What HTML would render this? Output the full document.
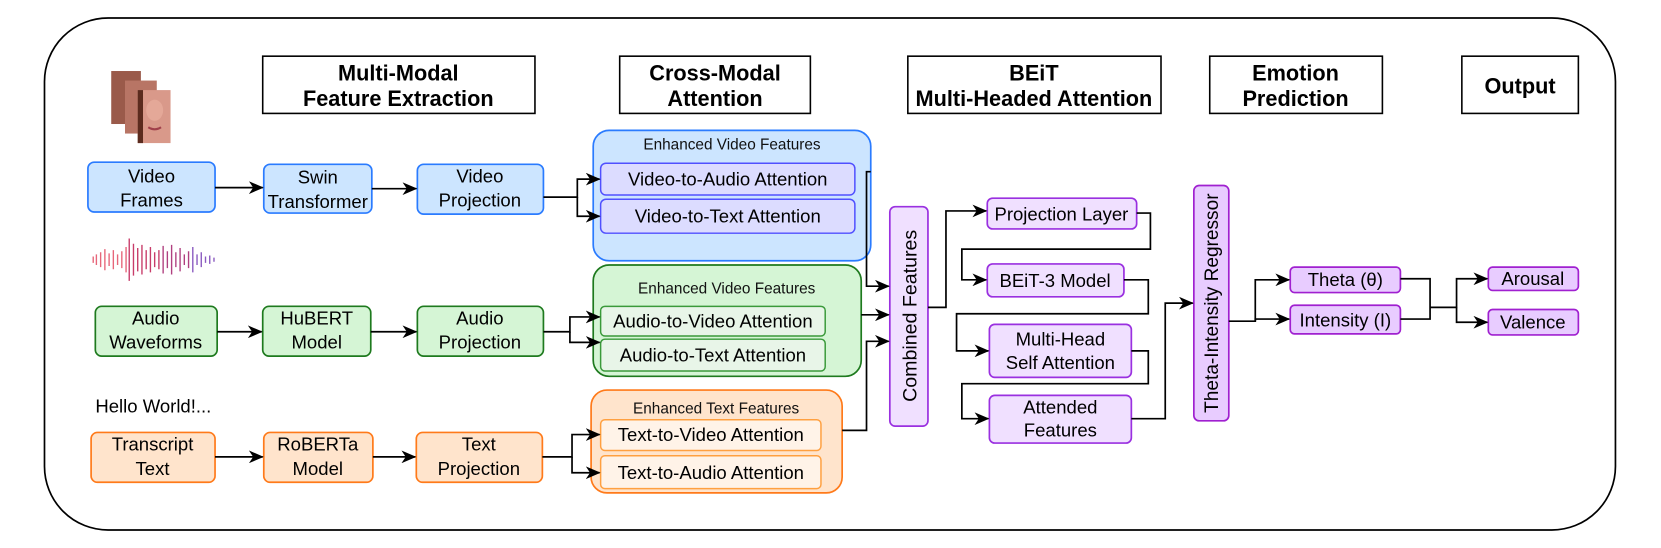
<!DOCTYPE html>
<html><head><meta charset="utf-8"><style>
html,body{margin:0;padding:0;background:#fff;}
svg{display:block;}
text{font-family:"Liberation Sans",Arial,sans-serif;}
</style></head><body>
<svg width="1661" height="548" viewBox="0 0 1568 517" preserveAspectRatio="none" xmlns="http://www.w3.org/2000/svg">
<defs>
<marker id="a" markerWidth="14" markerHeight="12" refX="13" refY="6" orient="auto" markerUnits="userSpaceOnUse">
<path d="M0,0 L14,6 L0,12 L4,6 z" fill="#000"/></marker>
</defs>
<rect x="42" y="17" width="1483" height="483" rx="60" fill="#fff" stroke="#000" stroke-width="1.6"/>

<g fill="#fff" stroke="#000" stroke-width="1.5">
<rect x="248" y="53" width="257" height="54"/>
<rect x="585" y="53" width="180" height="54"/>
<rect x="857" y="53" width="239" height="54"/>
<rect x="1142" y="53" width="163" height="54"/>
<rect x="1380" y="53" width="110" height="54"/>
</g>
<g font-weight="bold" font-size="20.5" text-anchor="middle" fill="#000">
<text x="376" y="76">Multi-Modal</text><text x="376" y="100">Feature Extraction</text>
<text x="675" y="76">Cross-Modal</text><text x="675" y="100">Attention</text>
<text x="976" y="76">BEiT</text><text x="976" y="100">Multi-Headed Attention</text>
<text x="1223" y="76">Emotion</text><text x="1223" y="100">Prediction</text>
<text x="1435" y="88">Output</text>
</g>

<!-- face frames -->
<rect x="105" y="67" width="28" height="50" fill="#9a5a4a"/>
<rect x="118" y="76" width="30" height="50" fill="#b87565"/>
<rect x="130" y="85" width="31" height="50" fill="#d9998a"/>
<rect x="130" y="85" width="5" height="50" fill="#5b2b1e"/>
<ellipse cx="146" cy="104" rx="8" ry="10" fill="#e4a898"/>
<path d="M140,120 q6,4 12,0" stroke="#a0404a" stroke-width="2" fill="none"/>

<g stroke-width="1.3">
<path d="M88,242v6M91,240v10M95,238v14M99,235v20M103,239v12M107,236v18M111,240v10M115,237v16M119,233v24" stroke="#e7667a"/>
<path d="M122,225v40M126,230v30M130,234v22M134,231v28M138,236v18M142,233v24M146,238v14M150,236v18" stroke="#c83c6a"/>
<path d="M154,232v26M158,237v16M162,231v28M166,238v14M170,234v22M174,240v10M178,237v16" stroke="#b04080"/>
<path d="M182,233v24M186,240v10M190,238v14M194,242v6M198,241v8M202,243v4" stroke="#8a5ac0"/>
</g>

<g fill="#cce5ff" stroke="#2a7bff" stroke-width="1.6">
<rect x="83" y="153" width="120" height="47" rx="6"/>
<rect x="249" y="155" width="102" height="46" rx="6"/>
<rect x="394" y="155" width="119" height="47" rx="6"/>
<rect x="560" y="123" width="262" height="123" rx="15"/>
</g>
<g fill="#dcdcff" stroke="#5050ff" stroke-width="1.4">
<rect x="567" y="154" width="240" height="30" rx="5"/>
<rect x="567" y="188" width="240" height="32" rx="5"/>
</g>
<g fill="#d5f5d5" stroke="#1e7a1e" stroke-width="1.6">
<rect x="90" y="289" width="115" height="47" rx="6"/>
<rect x="248" y="289" width="102" height="47" rx="6"/>
<rect x="394" y="289" width="119" height="47" rx="6"/>
<rect x="560" y="250" width="253" height="105" rx="15"/>
</g>
<g fill="#e8f5e8" stroke="#3a9a3a" stroke-width="1.4">
<rect x="567" y="289" width="212" height="28" rx="4"/>
<rect x="567" y="320" width="212" height="30" rx="4"/>
</g>
<g fill="#ffe4cc" stroke="#ff7a1a" stroke-width="1.6">
<rect x="86" y="408" width="117" height="47" rx="6"/>
<rect x="249" y="408" width="103" height="47" rx="6"/>
<rect x="393" y="408" width="119" height="47" rx="6"/>
<rect x="558" y="368" width="237" height="97" rx="15"/>
</g>
<g fill="#fff3e8" stroke="#ffa040" stroke-width="1.4">
<rect x="567" y="396" width="208" height="29" rx="4"/>
<rect x="567" y="430" width="208" height="31" rx="4"/>
</g>

<g font-size="17.5" text-anchor="middle" fill="#000">
<text x="143" y="172">Video</text><text x="143" y="195">Frames</text>
<text x="300" y="173">Swin</text><text x="300" y="196">Transformer</text>
<text x="453" y="172">Video</text><text x="453" y="195">Projection</text>
<text x="687" y="175">Video-to-Audio Attention</text>
<text x="687" y="210">Video-to-Text Attention</text>
<text x="147" y="306">Audio</text><text x="147" y="329">Waveforms</text>
<text x="299" y="306">HuBERT</text><text x="299" y="329">Model</text>
<text x="453" y="306">Audio</text><text x="453" y="329">Projection</text>
<text x="673" y="309">Audio-to-Video Attention</text>
<text x="673" y="341">Audio-to-Text Attention</text>
<text x="144" y="425">Transcript</text><text x="144" y="448">Text</text>
<text x="300" y="425">RoBERTa</text><text x="300" y="448">Model</text>
<text x="452" y="425">Text</text><text x="452" y="448">Projection</text>
<text x="671" y="416">Text-to-Video Attention</text>
<text x="671" y="452">Text-to-Audio Attention</text>
<text x="90" y="389" text-anchor="start">Hello World!...</text>
</g>
<g font-size="14.5" text-anchor="middle" fill="#111">
<text x="691" y="141">Enhanced Video Features</text>
<text x="686" y="277">Enhanced Video Features</text>
<text x="676" y="390">Enhanced Text Features</text>
</g>

<g fill="#f0e0ff" stroke="#9a30e0" stroke-width="1.6">
<rect x="840" y="195" width="36" height="207" rx="5"/>
<rect x="932" y="187" width="141" height="29" rx="5"/>
<rect x="932" y="249" width="129" height="31" rx="5"/>
<rect x="934" y="306" width="134" height="50" rx="5"/>
<rect x="934" y="373" width="134" height="45" rx="5"/>
</g>
<g fill="#e8ccff" stroke="#a020d0" stroke-width="1.6">
<rect x="1127" y="175" width="33" height="222" rx="5"/>
<rect x="1218" y="252" width="104" height="24" rx="4"/>
<rect x="1218" y="288" width="104" height="27" rx="4"/>
<rect x="1405" y="252" width="85" height="22" rx="4"/>
<rect x="1405" y="292" width="85" height="24" rx="4"/>
</g>
<g font-size="17.5" text-anchor="middle" fill="#000">
<text transform="translate(865,298) rotate(-90)" font-size="18.5">Combined Features</text>
<text transform="translate(1150,286) rotate(-90)" font-size="18">Theta-Intensity Regressor</text>
<text x="1002" y="208">Projection Layer</text>
<text x="996" y="271">BEiT-3 Model</text>
<text x="1001" y="326">Multi-Head</text><text x="1001" y="348">Self Attention</text>
<text x="1001" y="390">Attended</text><text x="1001" y="412">Features</text>
<text x="1270" y="270">Theta (θ)</text>
<text x="1270" y="308">Intensity (I)</text>
<text x="1447" y="269">Arousal</text>
<text x="1447" y="310">Valence</text>
</g>

<g fill="none" stroke="#000" stroke-width="1.6">
<path d="M203,177H248" marker-end="url(#a)"/>
<path d="M351,178H393" marker-end="url(#a)"/>
<path d="M205,313H247" marker-end="url(#a)"/>
<path d="M350,313H393" marker-end="url(#a)"/>
<path d="M203,431H248" marker-end="url(#a)"/>
<path d="M352,431H392" marker-end="url(#a)"/>
<path d="M513,186H545V169H566" marker-end="url(#a)"/>
<path d="M545,186V204H566" marker-end="url(#a)"/>
<path d="M513,313H538V299H566" marker-end="url(#a)"/>
<path d="M538,313V323H566" marker-end="url(#a)"/>
<path d="M512,431H540V410H566" marker-end="url(#a)"/>
<path d="M540,431V446H566" marker-end="url(#a)"/>
<path d="M822,162H818V270H839" marker-end="url(#a)"/>
<path d="M813,297H839" marker-end="url(#a)"/>
<path d="M795,406H818V322H839" marker-end="url(#a)"/>
<path d="M876,290H893V199H931" marker-end="url(#a)"/>
<path d="M1073,201H1086V235H908V264H931" marker-end="url(#a)"/>
<path d="M1061,264H1084V296H903V331H933" marker-end="url(#a)"/>
<path d="M1068,331H1084V362H908V395H933" marker-end="url(#a)"/>
<path d="M1068,395H1100V286H1126" marker-end="url(#a)"/>
<path d="M1160,303H1185V264H1217" marker-end="url(#a)"/>
<path d="M1185,303V301H1217" marker-end="url(#a)"/>
<path d="M1322,263H1350V301H1322"/>
<path d="M1350,290H1375V263H1404" marker-end="url(#a)"/>
<path d="M1375,290V304H1404" marker-end="url(#a)"/>
</g>
</svg>
</body></html>
